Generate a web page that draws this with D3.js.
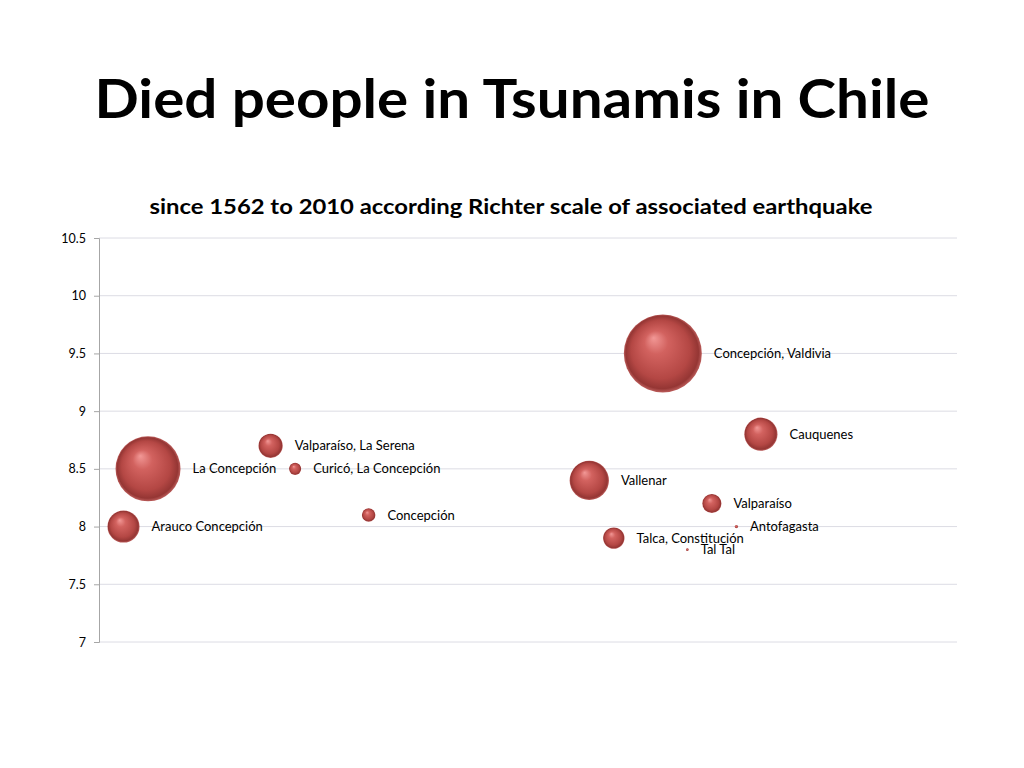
<!DOCTYPE html>
<html>
<head>
<meta charset="utf-8">
<script src="https://cdn.jsdelivr.net/npm/d3@7"></script>
<style>
  body { margin: 0; background: #fff; }
  svg { display: block; font-family: Lato, "Open Sans", sans-serif; }
</style>
</head>
<body>
<div id="chart"></div>
<script>
// Data
const places = ["Arauco Concepción", "La Concepción", "Valparaíso, La Serena", "Curicó, La Concepción",
  "Concepción", "Vallenar", "Talca, Constitución", "Concepción, Valdivia", "Tal Tal",
  "Valparaíso", "Antofagasta", "Cauquenes"];
const order = [1, 2, 7, 8, 11, 20, 21, 23, 24, 25, 26, 27];
const richter = [8.0, 8.5, 8.7, 8.5, 8.1, 8.4, 7.9, 9.5, 7.8, 8.2, 8.0, 8.8];
const died = [280, 1150, 160, 40, 50, 420, 125, 1655, 2, 100, 3, 300];
const yTicks = [7, 7.5, 8, 8.5, 9, 9.5, 10, 10.5];

const width = 1024, height = 768;
const margin = { left: 99, right: 67, top: 238, bottom: 126 };

const svg = d3.select("#chart")
    .append("svg")
    .attr("width", width)
    .attr("height", height);

// Sphere look for bubbles
const grad = svg.append("defs").append("radialGradient")
    .attr("id", "ball")
    .attr("cx", "50%").attr("cy", "50%").attr("r", "50%")
    .attr("fx", "38%").attr("fy", "30%");
grad.append("stop").attr("offset", "0%").attr("stop-color", "#f29896");
grad.append("stop").attr("offset", "30%").attr("stop-color", "#d2625f");
grad.append("stop").attr("offset", "75%").attr("stop-color", "#b44744");
grad.append("stop").attr("offset", "93%").attr("stop-color", "#953634");
grad.append("stop").attr("offset", "100%").attr("stop-color", "#bc5d5b");

// Titles
svg.append("text")
    .attr("x", 512).attr("y", 118)
    .attr("text-anchor", "middle")
    .attr("font-size", 54).attr("font-weight", "bold")
    .attr("textLength", 835).attr("lengthAdjust", "spacingAndGlyphs")
    .text("Died people in Tsunamis in Chile");

svg.append("text")
    .attr("x", 511).attr("y", 214)
    .attr("text-anchor", "middle")
    .attr("font-size", 21).attr("font-weight", "bold")
    .attr("textLength", 723).attr("lengthAdjust", "spacingAndGlyphs")
    .text("since 1562 to 2010  according Richter scale of associated earthquake");

// Scales
const x = d3.scaleLinear().domain([0, 35]).range([margin.left, width - margin.right]);
const y = d3.scaleLinear().domain([7, 10.5]).range([height - margin.bottom, margin.top]);
const r = d3.scaleSqrt().domain([0, d3.max(died)]).range([0, 39]);

// Grid lines
svg.append("g")
    .selectAll("line")
    .data(yTicks)
    .join("line")
    .attr("x1", x(0)).attr("x2", x(35))
    .attr("y1", d => y(d)).attr("y2", d => y(d))
    .attr("stroke", "#dcdce4")
    .attr("stroke-width", 1);

// Y axis
const yAxis = svg.append("g")
    .attr("transform", `translate(${margin.left},0)`)
    .call(d3.axisLeft(y).tickValues(yTicks).tickSize(5).tickPadding(8)
        .tickFormat(d3.format("")));
yAxis.select(".domain").attr("stroke", "#a6a6a6");
yAxis.selectAll(".tick line").attr("stroke", "#a6a6a6");
yAxis.selectAll(".tick text")
    .attr("font-size", 12.5)
    .attr("font-family", "Lato, sans-serif")
    .attr("fill", "#000");

// Bubbles
const pts = places.map((p, i) => ({ name: p, x: order[i], y: richter[i], v: died[i] }));

svg.append("g")
    .selectAll("circle")
    .data(pts.slice().sort((a, b) => b.v - a.v))
    .join("circle")
    .attr("cx", d => x(d.x))
    .attr("cy", d => y(d.y))
    .attr("r", d => r(d.v))
    .attr("fill", "url(#ball)");

// Labels to the right of bubbles
svg.append("g")
    .selectAll("text")
    .data(pts)
    .join("text")
    .attr("x", d => x(d.x) + r(d.v) + 12)
    .attr("y", d => y(d.y))
    .attr("dy", "0.35em")
    .attr("font-size", 13)
    .attr("fill", "#000")
    .text(d => d.name);
</script>
</body>
</html>
